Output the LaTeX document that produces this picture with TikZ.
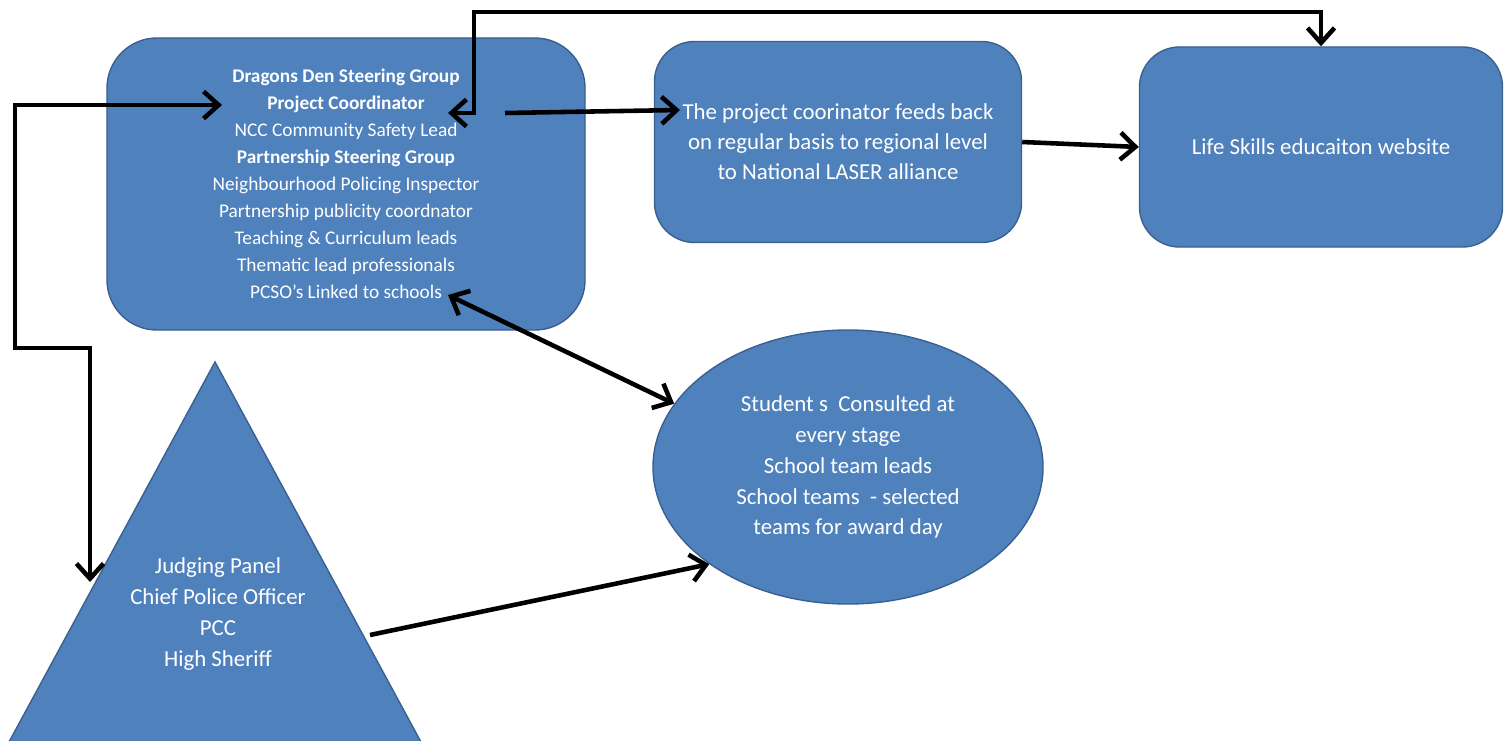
\documentclass[tikz,border=0pt]{standalone}
\usepackage{fontspec}
\setmainfont{Carlito}
\usetikzlibrary{arrows.meta,shapes.geometric,positioning}
\definecolor{panelblue}{HTML}{4F81BD}
\definecolor{paneledge}{HTML}{3A6090}
\tikzstyle{panel}    = [draw=paneledge, fill=panelblue, line width=0.8pt, text=white, align=center]
\tikzstyle{roundbox} = [panel, rectangle, rounded corners=8mm]
\tikzstyle{line}     = [draw, line width=2.6pt, -{Straight Barb[length=3mm,width=5.4mm]}]
\tikzstyle{twoway}   = [line, {Straight Barb[length=3mm,width=5.4mm]}-{Straight Barb[length=3mm,width=5.4mm]}]

\begin{document}
\begin{tikzpicture}[x=0.2mm, y=-0.2mm]
    \useasboundingbox (0,0) rectangle (1505,740);
    % Place nodes
    \node [roundbox, rounded corners=10mm, minimum width=95.6mm, minimum height=58.4mm,
           font=\fontsize{11}{15.4}\selectfont] (steerGroup) at (346,184)
          {\textbf{Dragons Den Steering Group}\\ \textbf{Project Coordinator}\\ NCC Community Safety Lead\\
           \textbf{Partnership Steering Group}\\ Neighbourhood Policing Inspector\\ Partnership publicity coordnator\\
           Teaching \& Curriculum leads\\ Thematic lead professionals\\ PCSO's Linked to schools};
    \node [roundbox, minimum width=73.4mm, minimum height=40.2mm,
           font=\fontsize{13}{17}\selectfont] (feedBack) at (838,142)
          {The project coorinator feeds back\\ on regular basis to regional level\\ to National LASER alliance};
    \node [roundbox, minimum width=72.6mm, minimum height=40mm,
           font=\fontsize{13}{17}\selectfont] (lifeSkills) at (1321,147) {Life Skills educaiton website};
    \node [panel, ellipse, minimum width=78mm, minimum height=54.8mm,
           font=\fontsize{13}{17.6}\selectfont] (students) at (848,467)
          {Student s\ \ Consulted at\\ every stage\\ School team leads\\ School teams\ \ - selected\\ teams for award day};

    % Judging panel triangle
    \coordinate (triTop)   at (215,362);
    \coordinate (triRight) at (421,742);
    \coordinate (triLeft)  at (9,742);
    \filldraw [panel] (triTop) -- (triRight) -- (triLeft) -- cycle;
    \node [text=white, align=center, font=\fontsize{13}{17.6}\selectfont] (judgingPanel) at (218,614)
          {Judging Panel\\ Chief Police Officer\\ PCC\\ High Sheriff};

    % Connector ends
    \coordinate (pcLeft)    at (222,105);
    \coordinate (pcRight)   at (448,113);
    \coordinate (feedStart) at (505,113);
    \coordinate (feedIn)    at (680,110);
    \coordinate (pcsoEnd)   at (448,295);
    \coordinate (judgeIn)   at (90,582);
    \coordinate (judgeOut)  at (370,635);

    \path [twoway] (pcLeft) -| (15,348) -| (judgeIn);
    \path [twoway] (pcRight) -| (474,12) -| (lifeSkills.north);
    \path [line] (feedStart) -- (feedIn);
    \path [line] (feedBack.east) -- (lifeSkills.west);
    \path [twoway] (pcsoEnd) -- (students.160);
    \path [line] (judgeOut) -- (students.215);
\end{tikzpicture}
\end{document}
